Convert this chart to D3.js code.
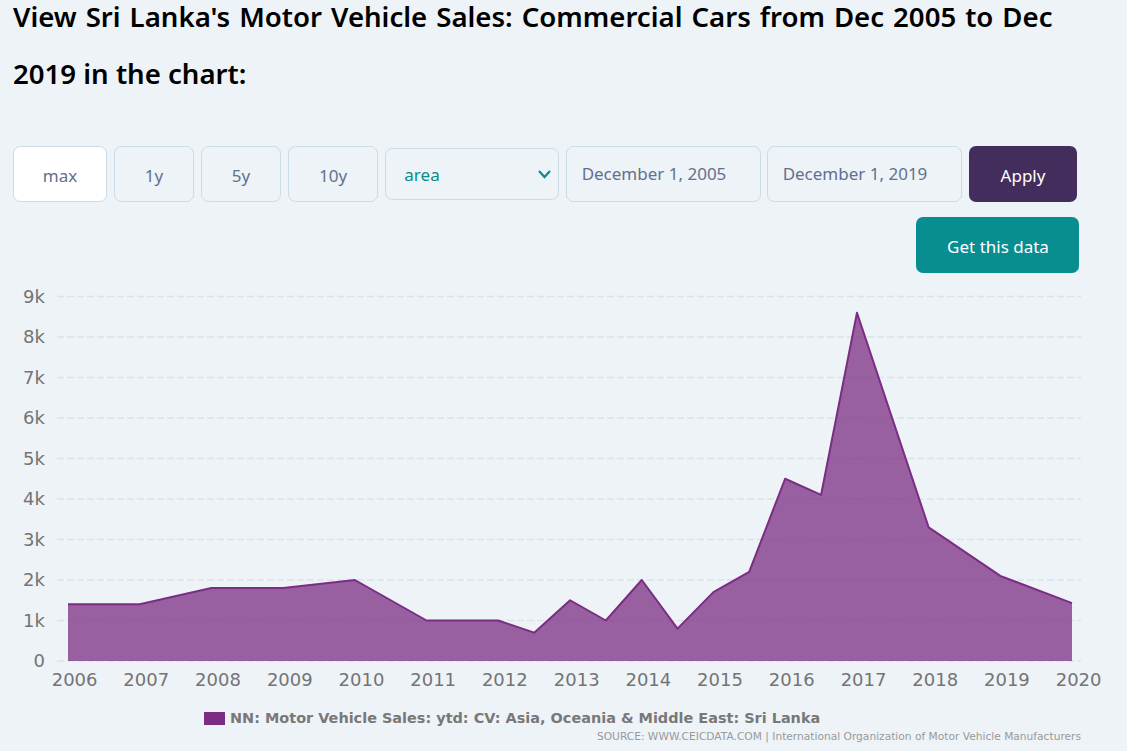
<!DOCTYPE html>
<html>
<head>
<meta charset="utf-8">
<script src="https://cdnjs.cloudflare.com/ajax/libs/d3/7.8.5/d3.min.js"></script>
<style>
html, body { margin: 0; padding: 0; background: #eef3f7; overflow: hidden; }
svg { display: block; }
.ui { font-family: "Noto Sans", sans-serif; font-size: 17px; }
.axis text { font-family: "DejaVu Sans", sans-serif; font-size: 18px; fill: #747474; }
.axis path, .axis line { display: none; }
</style>
</head>
<body>
<script>
var dates = ['2005-12-01', '2006-12-01', '2007-12-01', '2008-12-01', '2009-12-01', '2010-12-01', '2011-12-01',
    '2012-06-01', '2012-12-01', '2013-06-01', '2013-12-01', '2014-06-01', '2014-12-01', '2015-06-01',
    '2015-12-01', '2016-06-01', '2016-12-01', '2017-12-01', '2018-12-01', '2019-12-01'];
var values = [1400, 1400, 1800, 1800, 2000, 1000, 1000, 700, 1500, 1000, 2000, 800, 1700, 2200, 4500, 4100, 8600, 3300, 2100, 1430];
var yTicks = [0, 1000, 2000, 3000, 4000, 5000, 6000, 7000, 8000, 9000];
var xTickYears = [2006, 2007, 2008, 2009, 2010, 2011, 2012, 2013, 2014, 2015, 2016, 2017, 2018, 2019, 2020];
var titleLines = ["View Sri Lanka's Motor Vehicle Sales: Commercial Cars from Dec 2005 to Dec", "2019 in the chart:"];
var seriesName = 'NN: Motor Vehicle Sales: ytd: CV: Asia, Oceania & Middle East: Sri Lanka';
var sourceText = 'SOURCE: WWW.CEICDATA.COM | International Organization of Motor Vehicle Manufacturers';

var parseDate = d3.utcParse('%Y-%m-%d');

var svg = d3.select('body').append('svg').attr('width', 1127).attr('height', 751);

svg.selectAll('.title')
    .data(titleLines)
    .enter()
    .append('text')
    .attr('class', 'title')
    .attr('x', 13)
    .attr('y', function (d, i) { return 27 + i * 57; })
    .attr('font-family', '"Noto Sans", sans-serif')
    .attr('font-size', 27.6)
    .attr('font-weight', 600)
    .attr('word-spacing', function (d, i) { return i === 0 ? 1.8 : 0; })
    .attr('fill', '#000')
    .text(function (d) { return d; });

// controls above the chart
var buttons = [
    { label: 'max', x: 13, y: 146, w: 94, h: 56, fill: '#fff', stroke: '#cbdbe6', color: '#62708f', tx: 60 },
    { label: '1y', x: 114, y: 146, w: 80, h: 56, fill: 'none', stroke: '#cbdbe6', color: '#62708f', tx: 154 },
    { label: '5y', x: 201, y: 146, w: 80, h: 56, fill: 'none', stroke: '#cbdbe6', color: '#62708f', tx: 241 },
    { label: '10y', x: 288, y: 146, w: 90, h: 56, fill: 'none', stroke: '#cbdbe6', color: '#62708f', tx: 333 },
    { label: 'area', x: 385, y: 148, w: 174, h: 52, fill: 'none', stroke: '#cbdbe6', color: '#068e91', tx: 422, ty: 181 },
    { label: 'December 1, 2005', x: 566, y: 146, w: 195, h: 56, fill: 'none', stroke: '#cbdbe6', color: '#62708f', tx: 654, ty: 180 },
    { label: 'December 1, 2019', x: 767, y: 146, w: 195, h: 56, fill: 'none', stroke: '#cbdbe6', color: '#62708f', tx: 855, ty: 180 },
    { label: 'Apply', x: 969, y: 146, w: 108, h: 56, fill: '#432d5c', stroke: 'none', color: '#fff', tx: 1023 },
    { label: 'Get this data', x: 916, y: 217, w: 163, h: 56, fill: '#088e91', stroke: 'none', color: '#fff', tx: 998, ty: 253 }
];

var ui = svg.append('g').attr('class', 'ui');

ui.selectAll('rect')
    .data(buttons)
    .enter()
    .append('rect')
    .attr('x', function (d) { return d.stroke === 'none' ? d.x : d.x + 0.5; })
    .attr('y', function (d) { return d.stroke === 'none' ? d.y : d.y + 0.5; })
    .attr('width', function (d) { return d.stroke === 'none' ? d.w : d.w - 1; })
    .attr('height', function (d) { return d.stroke === 'none' ? d.h : d.h - 1; })
    .attr('rx', 7)
    .attr('fill', function (d) { return d.fill; })
    .attr('stroke', function (d) { return d.stroke; });

ui.selectAll('text')
    .data(buttons)
    .enter()
    .append('text')
    .attr('x', function (d) { return d.tx; })
    .attr('y', function (d) { return d.ty || 182; })
    .attr('text-anchor', 'middle')
    .attr('fill', function (d) { return d.color; })
    .text(function (d) { return d.label; });

ui.append('path')
    .attr('d', 'M539 171 L544.5 177 L550 171')
    .attr('fill', 'none')
    .attr('stroke', '#068e91')
    .attr('stroke-width', 2.2);

// chart
var x = d3.scaleUtc()
    .domain([parseDate(dates[0]), parseDate(dates[dates.length - 1])])
    .range([68, 1072]);

var y = d3.scaleLinear()
    .domain([0, 9000])
    .range([661, 296.5]);

var points = dates.map(function (d, i) {
    return { date: parseDate(d), value: values[i] };
});

svg.selectAll('.grid')
    .data(yTicks)
    .enter()
    .append('line')
    .attr('class', 'grid')
    .attr('x1', 57)
    .attr('x2', 1081)
    .attr('y1', function (d) { return y(d); })
    .attr('y2', function (d) { return y(d); })
    .attr('stroke', '#dde2e7')
    .attr('stroke-width', 1.5)
    .attr('stroke-dasharray', '7,3');

var area = d3.area()
    .x(function (d) { return x(d.date); })
    .y0(y(0))
    .y1(function (d) { return y(d.value); });

var line = d3.line()
    .x(function (d) { return x(d.date); })
    .y(function (d) { return y(d.value); });

svg.append('path')
    .datum(points)
    .attr('d', area)
    .attr('fill', '#7b2d84')
    .attr('fill-opacity', 0.75);

svg.append('path')
    .datum(points)
    .attr('d', line)
    .attr('fill', 'none')
    .attr('stroke', '#7b2d84')
    .attr('stroke-width', 2)
    .attr('stroke-linejoin', 'round');

var xAxis = d3.axisBottom(x)
    .tickValues(xTickYears.map(function (d) { return new Date(Date.UTC(d, 0, 1)); }))
    .tickFormat(d3.utcFormat('%Y'))
    .tickSize(0)
    .tickPadding(0);

svg.append('g')
    .attr('class', 'axis')
    .attr('transform', 'translate(0,673)')
    .call(xAxis);

var yAxis = d3.axisLeft(y)
    .tickValues(yTicks)
    .tickFormat(function (d) { return d === 0 ? '0' : (d / 1000) + 'k'; })
    .tickSize(0)
    .tickPadding(0);

svg.append('g')
    .attr('class', 'axis')
    .attr('transform', 'translate(45,0)')
    .call(yAxis);

// legend and source
svg.append('rect')
    .attr('x', 204)
    .attr('y', 712)
    .attr('width', 21)
    .attr('height', 13)
    .attr('fill', '#7b2d84');

svg.append('text')
    .attr('x', 230)
    .attr('y', 723)
    .attr('font-family', '"DejaVu Sans", sans-serif')
    .attr('font-size', 14.45)
    .attr('font-weight', 700)
    .attr('fill', '#787878')
    .text(seriesName);

svg.append('text')
    .attr('x', 1081)
    .attr('y', 740)
    .attr('text-anchor', 'end')
    .attr('font-family', '"DejaVu Sans", sans-serif')
    .attr('font-size', 10.65)
    .attr('fill', '#999')
    .text(sourceText);
</script>
</body>
</html>
